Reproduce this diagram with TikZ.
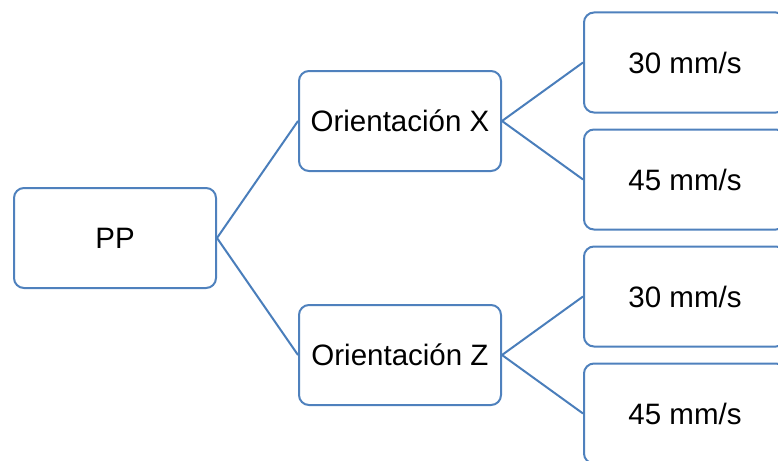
\documentclass[tikz,border=0pt]{standalone}
\usepackage{fontspec}
\setmainfont{Liberation Sans}
\definecolor{boxblue}{RGB}{79,129,189}
\definecolor{lineblue}{RGB}{74,126,187}
\begin{document}
\begin{tikzpicture}[x=1pt,y=-1pt,
  box/.style={draw=boxblue,line width=2pt,rounded corners=10pt,fill=white,
    minimum width=202pt,minimum height=100pt,inner sep=0pt,
    font=\fontsize{29.5}{32}\selectfont},
  conn/.style={draw=lineblue,line width=2pt}]
\useasboundingbox (0,0) rectangle (778,460);
\begin{scope}
\clip (0,0) rectangle (778,460);
\node[box] (pp) at (115,238) {PP};
\node[box] (ox) at (400,121) {Orientación X};
\node[box] (oz) at (400,355) {Orientación Z};
\node[box] (a1) at (685,62.5) {30 mm/s};
\node[box] (a2) at (685,179.5) {45 mm/s};
\node[box] (b1) at (685,296.5) {30 mm/s};
\node[box] (b2) at (685,413.5) {45 mm/s};
\draw[conn] (pp.east) -- (ox.west);
\draw[conn] (pp.east) -- (oz.west);
\draw[conn] (ox.east) -- (a1.west);
\draw[conn] (ox.east) -- (a2.west);
\draw[conn] (oz.east) -- (b1.west);
\draw[conn] (oz.east) -- (b2.west);
\end{scope}
\end{tikzpicture}
\end{document}
